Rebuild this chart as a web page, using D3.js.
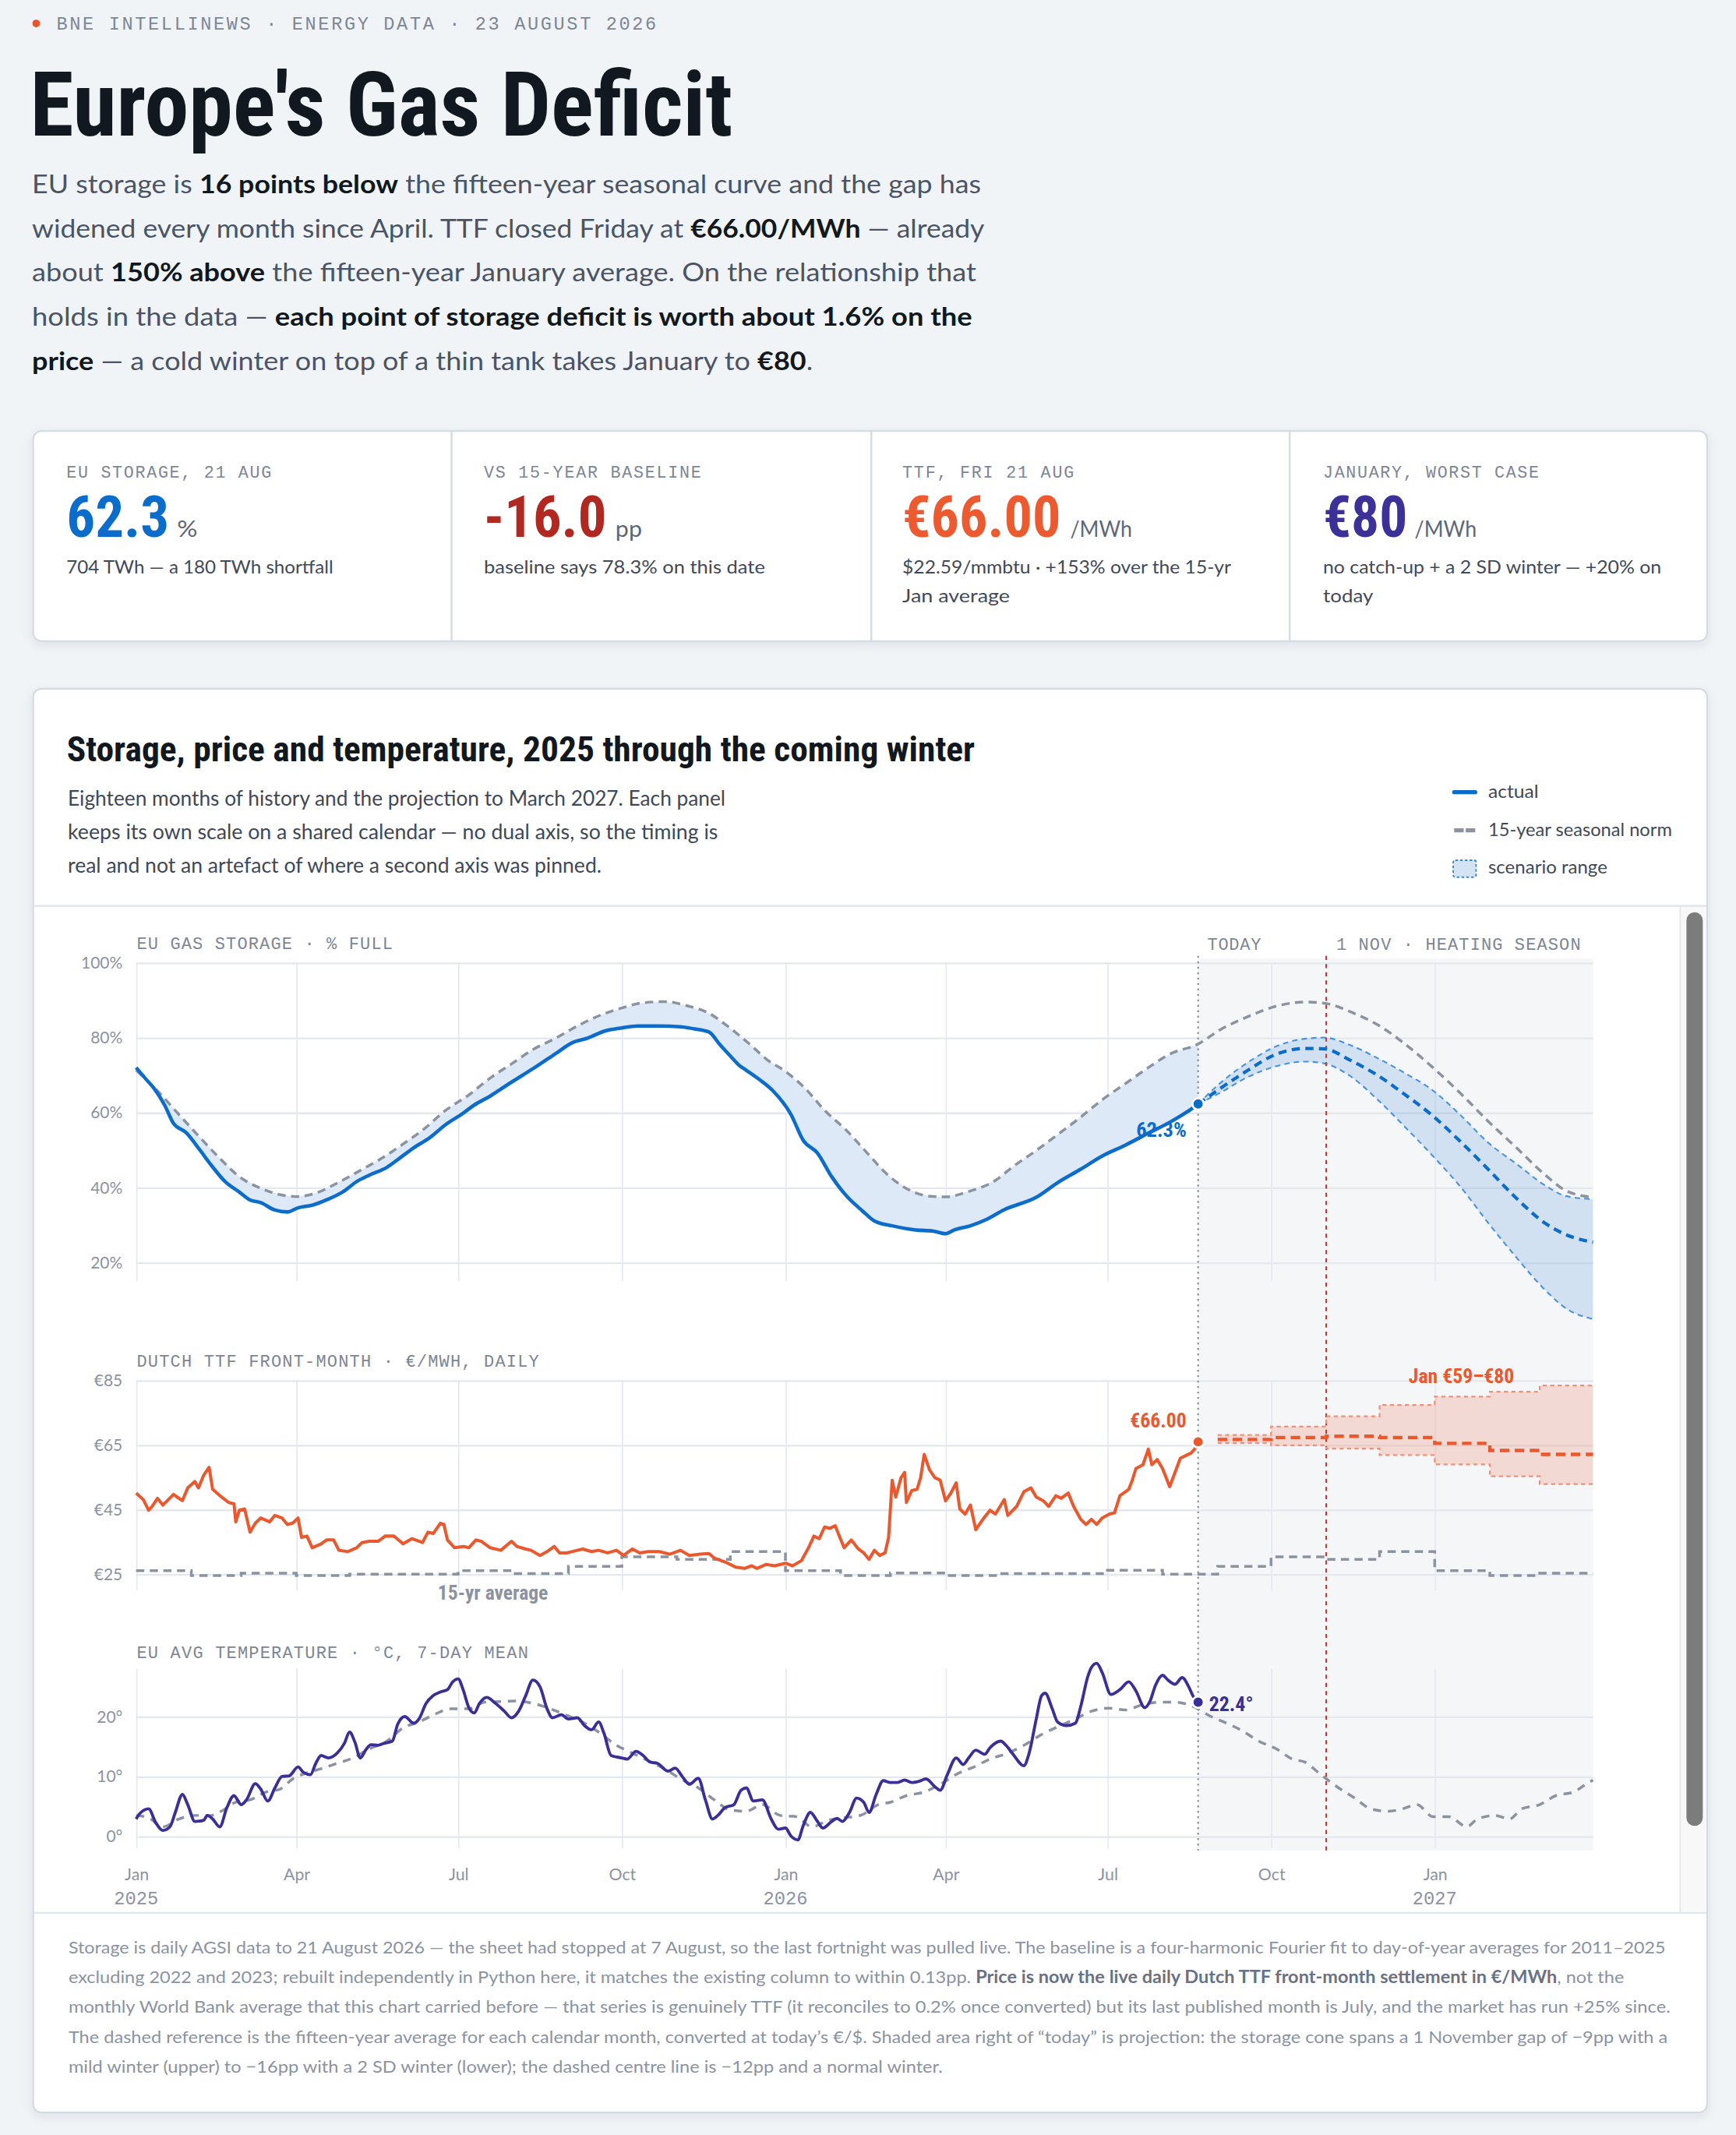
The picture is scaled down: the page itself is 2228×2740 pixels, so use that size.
<!DOCTYPE html>
<html><head><meta charset="utf-8">
<script src="https://cdn.jsdelivr.net/npm/d3@7/dist/d3.min.js"></script>
<style>
html,body{margin:0;padding:0;background:#f1f4f7;overflow:hidden}
svg{display:block}
</style></head><body>
<script>
// ---------------- DATA ----------------
const TODAY = '2026-08-21';
const NOV1 = '2026-11-01';

// EU gas storage, % full (actual)
const storageActual = [
['2025-01-01',72.0],['2025-01-06',69.2],['2025-01-11',66.5],['2025-01-17',62.0],['2025-01-22',57.1],['2025-01-29',54.7],
['2025-02-06',49.9],['2025-02-12',46.1],['2025-02-20',41.6],['2025-02-28',38.8],['2025-03-06',36.7],['2025-03-12',36.0],
['2025-03-20',34.0],['2025-03-27',33.5],['2025-04-02',34.6],['2025-04-10',35.3],['2025-04-18',36.7],['2025-04-27',38.8],
['2025-05-05',41.6],['2025-05-12',43.3],['2025-05-22',45.4],['2025-05-29',47.8],['2025-06-06',50.6],['2025-06-15',53.3],
['2025-06-24',56.8],['2025-07-04',59.9],['2025-07-10',62.0],['2025-07-19',64.4],['2025-07-28',67.2],['2025-08-06',69.9],
['2025-08-14',72.3],['2025-08-25',75.8],['2025-09-03',78.6],['2025-09-12',79.9],['2025-09-21',81.7],['2025-10-01',82.6],
['2025-10-10',83.1],['2025-10-22',83.1],['2025-11-03',82.9],['2025-11-10',82.4],['2025-11-19',81.5],['2025-11-25',78.2],
['2025-12-01',75.1],['2025-12-06',72.6],['2025-12-10',71.3],['2025-12-18',68.6],['2025-12-25',65.8],['2026-01-04',59.6],
['2026-01-11',52.6],['2026-01-19',49.2],['2026-01-27',42.9],['2026-02-05',37.4],['2026-02-13',33.9],['2026-02-20',31.1],
['2026-03-02',29.8],['2026-03-15',28.7],['2026-03-25',28.4],['2026-04-01',27.7],['2026-04-06',28.7],['2026-04-15',29.8],
['2026-04-24',31.5],['2026-05-04',34.1],['2026-05-22',37.4],['2026-06-03',41.3],['2026-06-16',44.9],['2026-06-28',48.4],
['2026-07-11',51.3],['2026-07-24',54.5],['2026-08-05',57.4],['2026-08-17',60.9],['2026-08-21',62.3]
];
// 15-year seasonal norm for storage, % full
const storageNorm = [
['2025-01-01',71.3],['2025-01-13',65.8],['2025-01-25',59.5],['2025-02-06',53.3],['2025-02-17',47.8],['2025-02-28',42.9],
['2025-03-12',39.8],['2025-03-23',38.1],['2025-04-01',37.6],['2025-04-12',38.5],['2025-04-24',41.2],['2025-05-06',44.3],
['2025-05-19',47.8],['2025-05-31',51.6],['2025-06-12',55.7],['2025-06-24',60.6],['2025-07-07',64.7],['2025-07-19',69.2],
['2025-07-31',73.0],['2025-08-12',76.8],['2025-08-25',79.9],['2025-09-06',83.1],['2025-09-18',85.8],['2025-10-01',87.9],
['2025-10-13',89.3],['2025-10-25',89.6],['2025-11-06',88.6],['2025-11-19',86.5],['2025-12-01',82.5],['2025-12-13',77.8],
['2025-12-22',74.0],['2026-01-01',71.0],['2026-01-12',66.5],['2026-01-23',60.6],['2026-02-04',55.4],['2026-02-16',49.2],
['2026-02-27',43.6],['2026-03-11',39.5],['2026-03-23',37.7],['2026-04-01',37.5],['2026-04-13',38.8],['2026-04-29',41.9],
['2026-05-09',45.6],['2026-05-22',49.9],['2026-06-03',54.1],['2026-06-16',58.8],['2026-06-28',63.4],['2026-07-11',67.7],
['2026-07-24',72.0],['2026-08-05',75.6],['2026-08-21',78.3],['2026-09-02',82.0],['2026-09-18',85.6],['2026-10-04',88.4],
['2026-10-20',89.5],['2026-11-01',89.1],['2026-11-14',87.0],['2026-11-30',83.4],['2026-12-15',78.4],['2026-12-31',72.0],
['2027-01-16',64.9],['2027-01-31',57.7],['2027-02-16',50.6],['2027-03-04',43.4],['2027-03-16',39.1],['2027-03-31',37.4]
];
// Storage projection cone
const coneDates = ['2026-08-21','2026-09-02','2026-09-18','2026-10-04','2026-10-20','2026-10-31','2026-11-14','2026-11-30',
  '2026-12-15','2026-12-31','2027-01-16','2027-01-31','2027-02-16','2027-03-04','2027-03-16','2027-03-31'];
const coneMid  = [62.3,66.3,71.3,75.6,77.1,77.0,74.1,69.9,64.9,59.1,52.0,44.9,37.1,30.5,27.4,25.4];
const coneHigh = [62.3,67.7,73.4,77.7,79.7,80.0,78.1,74.5,70.6,65.9,59.1,52.0,46.3,40.6,37.7,36.9];
const coneLow  = [62.3,65.2,69.5,72.4,73.6,73.1,69.9,63.4,56.3,48.4,39.9,30.6,21.3,12.7,7.7,4.9];

// Dutch TTF front-month, EUR/MWh, daily
const ttfActual = [
['2025-01-01',50.1],['2025-01-05',48.1],['2025-01-08',44.8],['2025-01-10',46.0],['2025-01-13',48.5],['2025-01-16',46.4],
['2025-01-22',49.7],['2025-01-24',48.9],['2025-01-27',47.8],['2025-01-30',51.7],['2025-02-03',53.7],['2025-02-05',51.7],
['2025-02-08',55.7],['2025-02-11',58.1],['2025-02-13',51.3],['2025-02-18',48.9],['2025-02-22',47.2],['2025-02-25',46.8],
['2025-02-26',41.2],['2025-02-28',44.8],['2025-03-03',45.2],['2025-03-06',38.0],['2025-03-09',40.8],['2025-03-12',42.4],
['2025-03-17',41.2],['2025-03-20',43.2],['2025-03-24',42.4],['2025-03-27',40.4],['2025-03-30',40.8],['2025-04-02',42.4],
['2025-04-04',36.4],['2025-04-07',36.8],['2025-04-10',33.2],['2025-04-15',34.4],['2025-04-18',35.6],['2025-04-22',35.6],
['2025-04-25',32.4],['2025-04-30',32.0],['2025-05-05',33.2],['2025-05-08',34.8],['2025-05-12',35.2],['2025-05-17',35.2],
['2025-05-21',36.8],['2025-05-26',36.8],['2025-05-31',34.4],['2025-06-05',36.0],['2025-06-11',34.8],['2025-06-14',38.0],
['2025-06-17',37.6],['2025-06-21',40.8],['2025-06-23',40.4],['2025-06-25',35.6],['2025-06-29',33.2],['2025-07-04',33.6],
['2025-07-07',33.2],['2025-07-11',35.6],['2025-07-14',35.2],['2025-07-19',33.2],['2025-07-25',32.4],['2025-07-31',35.2],
['2025-08-03',33.6],['2025-08-08',32.8],['2025-08-11',32.4],['2025-08-16',30.8],['2025-08-20',32.0],['2025-08-24',33.6],
['2025-08-27',31.6],['2025-08-31',31.6],['2025-09-06',32.4],['2025-09-09',32.8],['2025-09-14',32.0],['2025-09-18',32.4],
['2025-09-23',31.6],['2025-09-28',32.4],['2025-10-02',30.8],['2025-10-07',32.8],['2025-10-11',31.6],['2025-10-16',32.0],
['2025-10-22',32.0],['2025-10-28',31.2],['2025-11-03',32.4],['2025-11-08',30.8],['2025-11-14',31.2],['2025-11-19',31.4],
['2025-11-22',30.0],['2025-11-28',28.8],['2025-12-04',27.2],['2025-12-09',26.8],['2025-12-13',27.6],['2025-12-16',26.8],
['2025-12-21',28.0],['2025-12-26',27.6],['2026-01-01',28.4],['2026-01-05',27.6],['2026-01-10',29.2],['2026-01-14',33.2],
['2026-01-17',36.8],['2026-01-20',36.0],['2026-01-23',39.6],['2026-01-26',39.2],['2026-01-29',40.0],['2026-01-31',37.2],
['2026-02-03',33.2],['2026-02-07',35.6],['2026-02-11',32.8],['2026-02-14',31.6],['2026-02-17',29.6],['2026-02-20',32.4],
['2026-02-23',30.8],['2026-02-26',31.6],['2026-02-28',36.4],['2026-03-02',54.1],['2026-03-04',48.9],['2026-03-07',54.9],
['2026-03-09',56.5],['2026-03-10',47.2],['2026-03-13',50.9],['2026-03-16',51.3],['2026-03-18',54.9],['2026-03-20',62.1],
['2026-03-23',57.3],['2026-03-26',54.9],['2026-03-29',54.1],['2026-04-01',47.7],['2026-04-04',50.1],['2026-04-07',53.3],
['2026-04-09',45.2],['2026-04-12',43.6],['2026-04-15',46.4],['2026-04-18',38.8],['2026-04-22',42.0],['2026-04-26',44.8],
['2026-04-29',43.6],['2026-05-04',48.1],['2026-05-06',43.2],['2026-05-11',46.0],['2026-05-15',50.5],['2026-05-19',51.7],
['2026-05-22',48.9],['2026-05-26',47.7],['2026-05-29',46.0],['2026-06-02',49.3],['2026-06-05',48.5],['2026-06-09',50.1],
['2026-06-12',46.0],['2026-06-16',42.0],['2026-06-19',40.4],['2026-06-22',42.0],['2026-06-25',40.4],['2026-06-28',42.4],
['2026-07-02',43.6],['2026-07-05',44.0],['2026-07-08',49.3],['2026-07-13',51.3],['2026-07-15',54.1],['2026-07-17',57.7],
['2026-07-21',58.9],['2026-07-24',63.7],['2026-07-26',58.9],['2026-07-29',60.5],['2026-08-01',57.7],['2026-08-05',52.1],
['2026-08-08',56.5],['2026-08-11',60.9],['2026-08-14',61.7],['2026-08-17',62.5],['2026-08-19',63.7],['2026-08-21',66.0]
];
// 15-yr average by calendar month (EUR/MWh), Jan 2025 .. Mar 2027
const ttfNormMonths = ['2025-01','2025-02','2025-03','2025-04','2025-05','2025-06','2025-07','2025-08','2025-09','2025-10','2025-11','2025-12',
  '2026-01','2026-02','2026-03','2026-04','2026-05','2026-06','2026-07','2026-08','2026-09','2026-10','2026-11','2026-12',
  '2027-01','2027-02','2027-03'];
const ttfNormValues = [26.1,24.6,25.3,24.6,25.0,25.0,26.1,25.2,27.4,30.4,29.6,32.0,
  26.1,24.6,25.4,24.6,25.2,25.2,26.2,25.0,27.4,30.4,29.6,32.0,
  26.1,24.6,25.3];
// TTF projection by month
const ttfProjMonths = ['2026-09','2026-10','2026-11','2026-12','2027-01','2027-02','2027-03'];
const ttfProjMid  = [66.7,67.3,67.7,67.3,65.5,63.3,62.1];
const ttfProjHigh = [68.1,70.7,73.9,77.4,80.0,81.5,83.4];
const ttfProjLow  = [65.6,64.9,63.9,61.9,59.0,55.3,52.9];

// EU average temperature, 7-day mean, deg C
const tempActual = [
['2025-01-01',2.9],['2025-01-03',3.8],['2025-01-08',4.6],['2025-01-12',2.3],['2025-01-16',1.0],['2025-01-20',1.6],
['2025-01-23',4.0],['2025-01-27',7.0],['2025-01-30',5.3],['2025-02-03',2.5],['2025-02-08',2.7],['2025-02-10',3.5],
['2025-02-13',2.9],['2025-02-17',1.6],['2025-02-21',4.8],['2025-02-25',6.8],['2025-03-01',5.3],['2025-03-04',6.1],
['2025-03-09',8.8],['2025-03-12',7.9],['2025-03-16',5.9],['2025-03-20',8.1],['2025-03-24',10.0],['2025-03-28',10.1],
['2025-04-02',11.6],['2025-04-05',10.7],['2025-04-09',10.3],['2025-04-12',12.2],['2025-04-15',13.5],['2025-04-19',13.1],
['2025-04-24',13.9],['2025-04-28',15.5],['2025-05-01',17.4],['2025-05-04',15.7],['2025-05-07',13.1],['2025-05-10',14.4],
['2025-05-13',15.3],['2025-05-17',15.2],['2025-05-20',15.5],['2025-05-25',15.9],['2025-05-28',18.7],['2025-06-01',20.0],
['2025-06-06',18.9],['2025-06-09',19.6],['2025-06-13',22.2],['2025-06-17',23.5],['2025-06-21',24.1],['2025-06-25',24.5],
['2025-06-28',25.8],['2025-07-01',26.3],['2025-07-04',24.3],['2025-07-07',21.5],['2025-07-10',20.6],['2025-07-13',22.2],
['2025-07-17',23.2],['2025-07-22',22.2],['2025-07-27',20.9],['2025-07-31',19.8],['2025-08-04',20.9],['2025-08-08',23.5],
['2025-08-12',26.1],['2025-08-16',25.0],['2025-08-20',21.3],['2025-08-23',19.8],['2025-08-28',20.3],['2025-09-01',19.6],
['2025-09-06',19.8],['2025-09-10',18.5],['2025-09-14',17.8],['2025-09-18',19.1],['2025-09-21',17.2],['2025-09-25',13.5],
['2025-10-01',13.1],['2025-10-04',12.9],['2025-10-09',14.2],['2025-10-13',13.5],['2025-10-17',12.4],['2025-10-21',12.2],
['2025-10-27',10.9],['2025-10-31',11.4],['2025-11-04',10.0],['2025-11-08',8.7],['2025-11-13',9.7],['2025-11-17',6.1],
['2025-11-21',2.9],['2025-11-24',3.5],['2025-11-28',4.8],['2025-12-03',5.3],['2025-12-07',7.7],['2025-12-10',8.1],
['2025-12-14',5.9],['2025-12-19',6.1],['2025-12-24',2.9],['2025-12-28',1.2],['2026-01-01',1.4],['2026-01-04',0.1],
['2026-01-08',-0.6],['2026-01-11',1.8],['2026-01-15',4.0],['2026-01-19',2.5],['2026-01-22',1.4],['2026-01-27',2.5],
['2026-01-30',3.0],['2026-02-02',2.5],['2026-02-06',4.0],['2026-02-10',6.4],['2026-02-14',5.7],['2026-02-17',4.0],
['2026-02-21',7.0],['2026-02-25',9.3],['2026-03-01',9.0],['2026-03-05',9.0],['2026-03-09',9.4],['2026-03-13',9.0],
['2026-03-17',9.2],['2026-03-21',9.6],['2026-03-26',8.3],['2026-03-29',7.7],['2026-04-02',10.3],['2026-04-07',13.1],
['2026-04-11',12.0],['2026-04-14',13.1],['2026-04-18',14.4],['2026-04-23',13.7],['2026-04-26',14.8],['2026-05-02',15.9],
['2026-05-05',15.2],['2026-05-09',13.7],['2026-05-15',11.8],['2026-05-18',13.9],['2026-05-22',19.6],['2026-05-25',23.5],
['2026-05-27',23.9],['2026-05-31',21.3],['2026-06-03',19.1],['2026-06-08',18.5],['2026-06-13',18.9],['2026-06-16',21.7],
['2026-06-20',26.7],['2026-06-22',28.2],['2026-06-25',28.9],['2026-06-28',27.4],['2026-07-03',23.7],['2026-07-08',24.5],
['2026-07-13',25.8],['2026-07-17',24.3],['2026-07-22',21.5],['2026-07-25',22.6],['2026-07-28',25.2],['2026-08-01',26.9],
['2026-08-04',26.1],['2026-08-08',25.4],['2026-08-12',26.5],['2026-08-16',24.8],['2026-08-18',23.5],['2026-08-21',22.4]
];
// Temperature seasonal norm, deg C
const tempNorm = [
['2025-01-01',3.5],['2025-01-08',3.1],['2025-01-16',1.6],['2025-01-25',2.9],['2025-02-03',3.5],['2025-02-12',3.5],
['2025-02-19',4.4],['2025-02-26',5.7],['2025-03-06',6.1],['2025-03-15',7.4],['2025-03-23',7.9],['2025-03-30',9.6],
['2025-04-06',10.5],['2025-04-15',11.3],['2025-04-24',12.2],['2025-05-03',13.1],['2025-05-12',14.6],['2025-05-22',15.9],
['2025-05-31',18.1],['2025-06-09',19.1],['2025-06-18',20.4],['2025-06-27',21.3],['2025-07-07',21.3],['2025-07-16',22.4],
['2025-07-25',22.5],['2025-08-03',22.6],['2025-08-12',22.2],['2025-08-22',21.3],['2025-08-31',20.2],['2025-09-09',19.1],
['2025-09-18',17.4],['2025-09-28',15.2],['2025-10-07',13.9],['2025-10-16',12.6],['2025-10-25',11.3],['2025-11-03',9.6],
['2025-11-13',8.1],['2025-11-22',6.1],['2025-12-01',4.4],['2025-12-10',4.2],['2025-12-19',5.3],['2025-12-29',3.5],
['2026-01-07',3.3],['2026-01-16',1.6],['2026-01-25',2.7],['2026-02-03',3.1],['2026-02-13',3.6],['2026-02-22',5.3],
['2026-03-01',5.7],['2026-03-10',6.8],['2026-03-20',7.4],['2026-03-29',8.7],['2026-04-08',10.5],['2026-04-17',11.6],
['2026-04-26',12.9],['2026-05-06',13.9],['2026-05-15',15.2],['2026-05-25',17.0],['2026-06-03',18.3],['2026-06-13',19.6],
['2026-06-22',20.9],['2026-07-02',21.4],['2026-07-11',21.1],['2026-07-20',21.9],['2026-07-30',22.4],['2026-08-08',22.4],
['2026-08-18',21.7],['2026-08-27',20.2],['2026-09-06',18.9],['2026-09-15',17.6],['2026-09-24',15.9],['2026-10-04',14.6],
['2026-10-13',12.9],['2026-10-20',12.4],['2026-10-29',10.3],['2026-11-07',8.3],['2026-11-17',6.4],['2026-11-26',4.6],
['2026-12-06',4.2],['2026-12-14',4.6],['2026-12-22',5.3],['2026-12-31',3.3],['2027-01-09',3.3],['2027-01-19',1.6],
['2027-01-25',2.9],['2027-02-04',3.5],['2027-02-12',2.9],['2027-02-19',4.6],['2027-03-01',5.3],['2027-03-10',6.8],
['2027-03-20',7.4],['2027-03-28',8.9],['2027-03-31',9.4]
];
const storageTicks = [20,40,60,80,100];
const ttfTicks = [25,45,65,85];
const tempTicks = [0,10,20];

// ---------------- RENDER ----------------
const SANS = "Lato, 'Noto Sans', sans-serif";
const COND = "'Roboto Condensed', Roboto, 'Liberation Sans', sans-serif";
const MONO = "'Liberation Mono', 'DejaVu Sans Mono', monospace";
const BLUE = '#0b6ccc', ORANGE = '#ec582d', INDIGO = '#3a2f98', GRAY = '#8b93a0';

const svg = d3.select('body').append('svg')
  .attr('width', 2228).attr('height', 2740).attr('viewBox', '0 0 1275 1568');
const defs = svg.append('defs');
defs.append('filter').attr('id','sh').attr('x','-3%').attr('y','-6%').attr('width','106%').attr('height','116%')
  .append('feDropShadow').attr('dx',0).attr('dy',2.5).attr('stdDeviation',4)
  .attr('flood-color','#1d2b40').attr('flood-opacity',0.08);
svg.append('rect').attr('width',1275).attr('height',1568).attr('fill','#f1f4f7');

function T(g, x, y, parts, o = {}) {
  const t = g.append('text').attr('x', x).attr('y', y)
    .attr('font-family', o.f || SANS).attr('font-size', o.s || 13)
    .attr('fill', o.c || '#333').attr('font-weight', o.wt || 400);
  if (o.anchor) t.attr('text-anchor', o.anchor);
  if (typeof parts === 'string') parts = [[parts]];
  parts.forEach(p => {
    const s = t.append('tspan').text(p[0]);
    if (p[1]) s.attr('font-weight', o.bw || 700).attr('fill', o.bc || '#111820');
  });
  if (o.w) t.attr('textLength', o.w).attr('lengthAdjust', o.adj || 'spacingAndGlyphs');
  return t;
}

// ---- header ----
svg.append('circle').attr('cx', 26.6).attr('cy', 17.2).attr('r', 2.8).attr('fill', '#e8552d');
T(svg, 41.5, 21.6, 'BNE INTELLINEWS · ENERGY DATA · 23 AUGUST 2026', {f: MONO, s: 13.5, c: '#7d8696', w: 440.5, adj: 'spacing'});
T(svg, 22, 99.6, "Europe's Gas Deficit", {f: COND, s: 66, wt: 700, c: '#111820', w: 516});

const lede = [
  [['EU storage is '], ['16 points below', 1], [' the fifteen-year seasonal curve and the gap has']],
  [['widened every month since April. TTF closed Friday at '], ['€66.00/MWh', 1], [' — already']],
  [['about '], ['150% above', 1], [' the fifteen-year January average. On the relationship that']],
  [['holds in the data — '], ['each point of storage deficit is worth about 1.6% on the', 1]],
  [['price', 1], [' — a cold winter on top of a thin tank takes January to '], ['€80', 1], ['.']]
];
const ledeW = [697, 699.5, 693.5, 690.5, 573.5];
lede.forEach((l, i) => T(svg, 23.5, 142 + i * 32.4, l, {s: 18.6, c: '#4a5466', w: ledeW[i]}));

// ---- KPI card ----
svg.append('rect').attr('x', 24.4).attr('y', 316.6).attr('width', 1229.4).attr('height', 154.2).attr('rx', 6)
  .attr('fill', '#fff').attr('stroke', '#d4d9e2').attr('stroke-width', 1.2).attr('filter', 'url(#sh)');
[331.7, 639.9, 947.2].forEach(xx => svg.append('line').attr('x1', xx).attr('x2', xx).attr('y1', 317.2).attr('y2', 470.2)
  .attr('stroke', '#d8dde5').attr('stroke-width', 1.5));
const kpis = [
  {x: 48.8, label: 'EU STORAGE, 21 AUG', lw: 150.5, val: '62.3', vw: 75.5, col: BLUE, unit: '%', ux: 130, uw: 15, sub: ['704 TWh — a 180 TWh shortfall'], sw: [196]},
  {x: 355.4, label: 'VS 15-YEAR BASELINE', lw: 159.5, val: '-16.0', vw: 90, col: '#b0281f', unit: 'pp', ux: 452, uw: 19.5, sub: ['baseline says 78.3% on this date'], sw: [206.5]},
  {x: 662.7, label: 'TTF, FRI 21 AUG', lw: 126, val: '€66.00', vw: 116.5, col: '#ee5a30', unit: '/MWh', ux: 786, uw: 45.5, sub: ['$22.59/mmbtu · +153% over the 15-yr', 'Jan average'], sw: [241.5, 79]},
  {x: 971.7, label: 'JANUARY, WORST CASE', lw: 158.5, val: '€80', vw: 62, col: '#3b3199', unit: '/MWh', ux: 1039, uw: 45.5, sub: ['no catch-up + a 2 SD winter — +20% on', 'today'], sw: [248.5, 36.8]}
];
kpis.forEach(k => {
  T(svg, k.x, 351, k.label, {f: MONO, s: 12.4, c: '#7d8696', w: k.lw, adj: 'spacing'});
  T(svg, k.x, 394.3, k.val, {f: COND, s: 42, wt: 700, c: k.col, w: k.vw});
  T(svg, k.ux, 394.3, k.unit, {s: 16.5, c: '#5d6777', w: k.uw});
  k.sub.forEach((s, i) => T(svg, k.x, 421 + i * 21.5, s, {s: 13.4, c: '#3f4959', w: k.sw[i]}));
});

// ---- chart card ----
svg.append('rect').attr('x', 24.4).attr('y', 505.9).attr('width', 1229.4).attr('height', 1045.6).attr('rx', 6)
  .attr('fill', '#fff').attr('stroke', '#d4d9e2').attr('stroke-width', 1.2).attr('filter', 'url(#sh)');
T(svg, 49, 558.9, 'Storage, price and temperature, 2025 through the coming winter', {f: COND, s: 25.5, wt: 700, c: '#111820', w: 667});
const desc = ['Eighteen months of history and the projection to March 2027. Each panel',
  'keeps its own scale on a shared calendar — no dual axis, so the timing is',
  'real and not an artefact of where a second axis was pinned.'];
const descW = [483, 477.5, 392];
desc.forEach((d, i) => T(svg, 49.8, 591.7 + i * 24.65, d, {s: 15.4, c: '#3f4858', w: descW[i]}));

// legend
svg.append('line').attr('x1', 1068).attr('x2', 1083.5).attr('y1', 581.8).attr('y2', 581.8)
  .attr('stroke', BLUE).attr('stroke-width', 3).attr('stroke-linecap', 'round');
svg.append('line').attr('x1', 1068).attr('x2', 1083.5).attr('y1', 609.8).attr('y2', 609.8)
  .attr('stroke', GRAY).attr('stroke-width', 3).attr('stroke-dasharray', '7,1.5');
svg.append('rect').attr('x', 1067.3).attr('y', 631.8).attr('width', 16.8).attr('height', 12.4).attr('rx', 1.5)
  .attr('fill', '#d4e4f5').attr('stroke', '#3f88d6').attr('stroke-width', 1.1).attr('stroke-dasharray', '2,1.5');
T(svg, 1093, 586, 'actual', {s: 13.4, c: '#3f4858', w: 37});
T(svg, 1093, 613.8, '15-year seasonal norm', {s: 13.4, c: '#3f4858', w: 135});
T(svg, 1093, 641.3, 'scenario range', {s: 13.4, c: '#3f4858', w: 87.5});

// separators + scrollbar look
[665.3, 1404.9].forEach(yy => svg.append('line').attr('x1', 25).attr('x2', 1253.2).attr('y1', yy).attr('y2', yy)
  .attr('stroke', '#e2e6ed').attr('stroke-width', 1.5));
svg.append('rect').attr('x', 1234).attr('y', 666).attr('width', 19.2).attr('height', 738.2).attr('fill', '#f8f8f8');
svg.append('line').attr('x1', 1234).attr('x2', 1234).attr('y1', 666).attr('y2', 1404.2).attr('stroke', '#e6e6e6').attr('stroke-width', 1);
svg.append('rect').attr('x', 1238.6).attr('y', 670).attr('width', 12).attr('height', 671).attr('rx', 6).attr('fill', '#7c7c7c');

// ---- plots ----
const parse = d3.utcParse('%Y-%m-%d');
const parseM = d3.utcParse('%Y-%m');
const pts = a => a.map(([d, v]) => ({d: parse(d), v}));
const x = d3.scaleUtc().domain([parse('2025-01-01'), parse('2027-03-31')]).range([100, 1170]);
const X0 = 100, X1 = 1170;
const tDay = parse(TODAY), xT = x(tDay), xN = x(parse(NOV1));
const quarters = d3.utcMonth.every(3).range(parse('2025-01-01'), parse('2027-03-31'));

const yS = d3.scaleLinear([15, 100], [941, 707]);
const yP = d3.scaleLinear([20, 85], [1168, 1013.8]);
const yC = d3.scaleLinear([-2, 28], [1357.5, 1225.5]);

// projection shading
svg.append('rect').attr('x', xT).attr('y', 704).attr('width', X1 - xT).attr('height', 655).attr('fill', '#f5f6f8');

function grid(y, top, bot, ticks, fmt) {
  const g = svg.append('g');
  const gv = g.append('g').attr('transform', `translate(0,${bot})`)
    .call(d3.axisBottom(x).tickValues(quarters).tickSize(-(bot - top)).tickFormat(''));
  gv.select('.domain').remove();
  gv.selectAll('.tick line').attr('stroke', '#e6e9ef').attr('stroke-width', 1);
  const gh = g.append('g').attr('transform', `translate(${X0},0)`)
    .call(d3.axisLeft(y).tickValues(ticks).tickSize(-(X1 - X0)).tickPadding(10).tickFormat(fmt));
  gh.select('.domain').remove();
  gh.selectAll('.tick line').attr('stroke', '#e3e7ee').attr('stroke-width', 1.3);
  gh.selectAll('.tick text').attr('fill', '#8b93a2').attr('font-family', SANS).attr('font-size', 12);
}
grid(yS, 707, 941, storageTicks, d => d + '%');
grid(yP, 1013.8, 1168, ttfTicks, d => '€' + d);
grid(yC, 1225.5, 1357.5, tempTicks, d => d + '°');

// month axis + years
const ga = svg.append('g').attr('transform', 'translate(0,1360)')
  .call(d3.axisBottom(x).tickValues(quarters).tickSize(0).tickPadding(12).tickFormat(d3.utcFormat('%b')));
ga.select('.domain').remove();
ga.selectAll('.tick text').attr('fill', '#8b93a2').attr('font-family', SANS).attr('font-size', 12.2);
quarters.filter(d => d.getUTCMonth() === 0).forEach(d =>
  T(svg, x(d), 1398.6, String(d.getUTCFullYear()), {f: MONO, s: 13.6, c: '#8b93a2', anchor: 'middle'}));

// panel labels
T(svg, 100.4, 697.2, 'EU GAS STORAGE · % FULL', {f: MONO, s: 12.6, c: '#7d8696', w: 188, adj: 'spacing'});
T(svg, 100.4, 1003.8, 'DUTCH TTF FRONT-MONTH · €/MWH, DAILY', {f: MONO, s: 12.6, c: '#7d8696', w: 295.5, adj: 'spacing'});
T(svg, 100.4, 1218, 'EU AVG TEMPERATURE · °C, 7-DAY MEAN', {f: MONO, s: 12.6, c: '#7d8696', w: 287.5, adj: 'spacing'});
T(svg, 886.7, 697.5, 'TODAY', {f: MONO, s: 12.6, c: '#7d8696', w: 39.5, adj: 'spacing'});
T(svg, 981.4, 697.5, '1 NOV · HEATING SEASON', {f: MONO, s: 12.6, c: '#7d8696', w: 179.5, adj: 'spacing'});

// --- storage ---
const sA = pts(storageActual), sN = pts(storageNorm);
const histN = sN.filter(p => p.d <= tDay);
const polyLine = d3.line().x(p => x(p.d)).y(p => yS(p.v));
svg.append('path').attr('d', polyLine(sA.concat(histN.slice().reverse())) + 'Z').attr('fill', '#dde9f6');
const cone = coneDates.map((d, i) => ({d: parse(d), mid: coneMid[i], hi: coneHigh[i], lo: coneLow[i]}));
svg.append('path').attr('d', d3.area().x(p => x(p.d)).y0(p => yS(p.lo)).y1(p => yS(p.hi)).curve(d3.curveMonotoneX)(cone))
  .attr('fill', BLUE).attr('fill-opacity', 0.15);
const smooth = (y) => d3.line().x(p => x(p.d)).y(p => y(p.v)).curve(d3.curveMonotoneX);
svg.append('path').attr('d', smooth(yS)(sN)).attr('fill', 'none').attr('stroke', GRAY).attr('stroke-width', 2).attr('stroke-dasharray', '6,4');
['hi', 'lo'].forEach(k => svg.append('path')
  .attr('d', d3.line().x(p => x(p.d)).y(p => yS(p[k])).curve(d3.curveMonotoneX)(cone))
  .attr('fill', 'none').attr('stroke', '#4a92de').attr('stroke-width', 1.2).attr('stroke-dasharray', '4,3'));

// --- ttf ---
const tN = ttfNormMonths.map((m, i) => ({d: parseM(m), v: ttfNormValues[i]}));
tN.push({d: parse('2027-03-31'), v: ttfNormValues[ttfNormValues.length - 1]});
const tPr = ttfProjMonths.map((m, i) => ({d: parseM(m), mid: ttfProjMid[i], hi: ttfProjHigh[i], lo: ttfProjLow[i]}));
const lastP = tPr[tPr.length - 1];
tPr.push({d: parse('2027-03-31'), mid: lastP.mid, hi: lastP.hi, lo: lastP.lo});
svg.append('path').attr('d', d3.area().x(p => x(p.d)).y0(p => yP(p.lo)).y1(p => yP(p.hi)).curve(d3.curveStepAfter)(tPr))
  .attr('fill', ORANGE).attr('fill-opacity', 0.18);

// today / 1 Nov markers
svg.append('line').attr('x1', xT).attr('x2', xT).attr('y1', 702).attr('y2', 1359)
  .attr('stroke', GRAY).attr('stroke-width', 1.3).attr('stroke-dasharray', '1.4,2.6');
svg.append('line').attr('x1', xN).attr('x2', xN).attr('y1', 702).attr('y2', 1359)
  .attr('stroke', '#bf3a2c').attr('stroke-width', 1.2).attr('stroke-dasharray', '3,3');

svg.append('path').attr('d', d3.line().x(p => x(p.d)).y(p => yP(p.v)).curve(d3.curveStepAfter)(tN))
  .attr('fill', 'none').attr('stroke', GRAY).attr('stroke-width', 2).attr('stroke-dasharray', '6,4');
['hi', 'lo'].forEach(k => svg.append('path')
  .attr('d', d3.line().x(p => x(p.d)).y(p => yP(p[k])).curve(d3.curveStepAfter)(tPr))
  .attr('fill', 'none').attr('stroke', '#f0907a').attr('stroke-width', 1.3).attr('stroke-dasharray', '3,2.5'));
svg.append('path').attr('d', d3.line().x(p => x(p.d)).y(p => yP(p.mid)).curve(d3.curveStepAfter)(tPr))
  .attr('fill', 'none').attr('stroke', ORANGE).attr('stroke-width', 2.5).attr('stroke-dasharray', '7,4');
svg.append('path').attr('d', d3.line().x(p => x(p.d)).y(p => yP(p.v))(pts(ttfActual)))
  .attr('fill', 'none').attr('stroke', ORANGE).attr('stroke-width', 2.3).attr('stroke-linejoin', 'round');

// storage lines on top
svg.append('path').attr('d', smooth(yS)(sA)).attr('fill', 'none').attr('stroke', BLUE).attr('stroke-width', 2.6).attr('stroke-linejoin', 'round');
svg.append('path').attr('d', d3.line().x(p => x(p.d)).y(p => yS(p.mid)).curve(d3.curveMonotoneX)(cone))
  .attr('fill', 'none').attr('stroke', BLUE).attr('stroke-width', 2.4).attr('stroke-dasharray', '6,4');

// --- temperature ---
svg.append('path').attr('d', smooth(yC)(pts(tempNorm))).attr('fill', 'none').attr('stroke', GRAY).attr('stroke-width', 2).attr('stroke-dasharray', '6,5');
svg.append('path').attr('d', smooth(yC)(pts(tempActual))).attr('fill', 'none').attr('stroke', INDIGO).attr('stroke-width', 2.2).attr('stroke-linejoin', 'round');

// dots + value labels
const lastS = sA[sA.length - 1], lastT = pts(ttfActual).pop(), lastC = pts(tempActual).pop();
[[yS(lastS.v), BLUE], [yP(lastT.v), ORANGE], [yC(lastC.v), INDIGO]].forEach(([yy, c]) =>
  svg.append('circle').attr('cx', xT).attr('cy', yy).attr('r', 4.2).attr('fill', c).attr('stroke', '#fff').attr('stroke-width', 1.6));
T(svg, xT - 8.5, yS(lastS.v) + 24, lastS.v.toFixed(1) + '%', {f: COND, s: 14.5, wt: 700, c: BLUE, anchor: 'end', w: 37});
T(svg, xT - 8.5, yP(lastT.v) - 10.6, '€' + lastT.v.toFixed(2), {f: COND, s: 14.5, wt: 700, c: ORANGE, anchor: 'end', w: 41.5});
T(svg, xT + 8, yC(lastC.v) + 6.4, lastC.v.toFixed(1) + '°', {f: COND, s: 14.5, wt: 700, c: INDIGO, w: 32.5});
const janIdx = ttfProjMonths.indexOf('2027-01');
T(svg, x(parse('2027-01-16')), yP(ttfProjHigh[janIdx]) - 10, `Jan €${Math.round(ttfProjLow[janIdx])}–€${Math.round(ttfProjHigh[janIdx])}`,
  {f: COND, s: 14.5, wt: 700, c: ORANGE, anchor: 'middle', w: 77.5});
T(svg, 362, 1175, '15-yr average', {f: COND, s: 14.5, wt: 700, c: GRAY, anchor: 'middle', w: 81});

// ---- footnote ----
const foot = [
  [['Storage is daily AGSI data to 21 August 2026 — the sheet had stopped at 7 August, so the last fortnight was pulled live. The baseline is a four-harmonic Fourier fit to day-of-year averages for 2011–2025']],
  [['excluding 2022 and 2023; rebuilt independently in Python here, it matches the existing column to within 0.13pp. '], ['Price is now the live daily Dutch TTF front-month settlement in €/MWh', 1], [', not the']],
  [['monthly World Bank average that this chart carried before — that series is genuinely TTF (it reconciles to 0.2% once converted) but its last published month is July, and the market has run +25% since.']],
  [['The dashed reference is the fifteen-year average for each calendar month, converted at today’s €/$. Shaded area right of “today” is projection: the storage cone spans a 1 November gap of −9pp with a']],
  [['mild winter (upper) to −16pp with a 2 SD winter (lower); the dashed centre line is −12pp and a normal winter.']]
];
const footW = [1173, 1142.5, 1176.5, 1174.5, 642];
foot.forEach((l, i) => T(svg, 50.3, 1434.4 + i * 22, l, {s: 12.6, c: '#8a93a2', w: footW[i], bc: '#687284', bw: 700}));
</script>
</body></html>
